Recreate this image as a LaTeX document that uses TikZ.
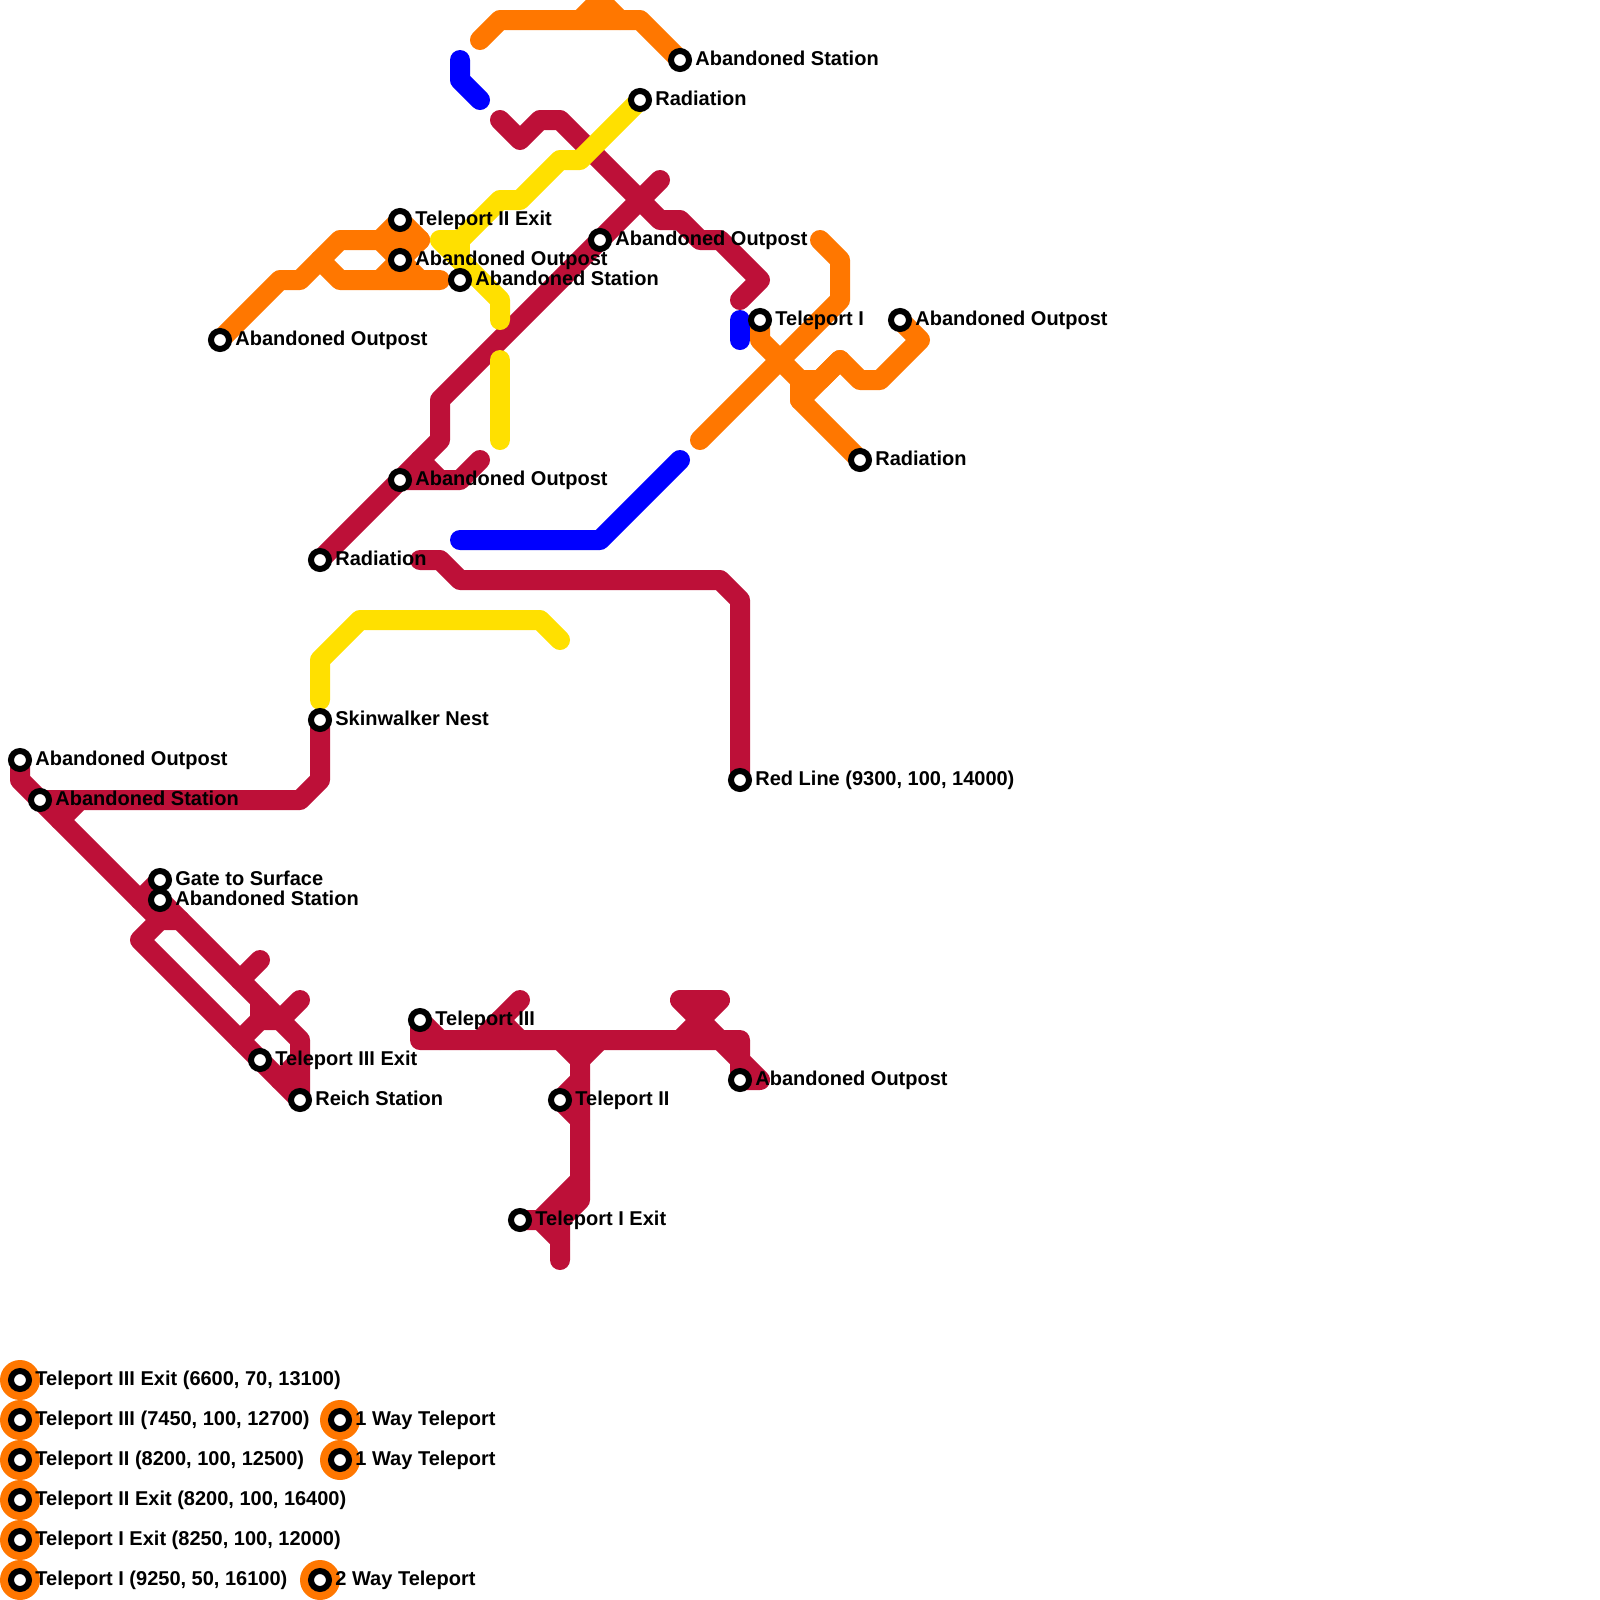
\documentclass[tikz,border=0pt]{standalone}
\usepackage{fontspec}
\setmainfont{Liberation Sans}
\definecolor{mred}{HTML}{BD1038}
\definecolor{morange}{HTML}{FF7700}
\definecolor{myellow}{HTML}{FFE000}
\definecolor{mblue}{HTML}{0000FF}
\tikzset{
  metro/.style={line width=15pt,line cap=round,line join=round},
  rline/.style={metro,draw=mred},
  oline/.style={metro,draw=morange},
  yline/.style={metro,draw=myellow},
  bline/.style={metro,draw=mblue},
  stationdot/.style={circle,draw=black,fill=white,line width=4.5pt,minimum size=13.5pt,inner sep=0pt,outer sep=0pt},
  halo/.style={circle,fill=morange,minimum size=30pt,inner sep=0pt,outer sep=0pt},
  stationlabel/.style={anchor=base west,inner sep=0pt,outer sep=0pt,font=\fontsize{15}{18}\selectfont\bfseries}
}
\newcommand{\stn}[2]{%
  \node[stationdot] (#1-dot) at (#1) {};
  \node[stationlabel] (#1-lab) at ([xshift=11.55pt,yshift=-3.75pt]#1) {#2};
}
\begin{document}
\begin{tikzpicture}[x=0.75pt,y=-0.75pt]
\useasboundingbox (0,0) rectangle (1600,1600);
\clip (0,0) rectangle (1600,1600);
% station positions
\coordinate (asA) at (680,60);
\coordinate (radA) at (640,100);
\coordinate (t2x) at (400,220);
\coordinate (aoA) at (400,260);
\coordinate (asB) at (460,280);
\coordinate (aoB) at (600,240);
\coordinate (aoC) at (220,340);
\coordinate (t1) at (760,320);
\coordinate (aoD) at (900,320);
\coordinate (radB) at (860,460);
\coordinate (aoE) at (400,480);
\coordinate (radC) at (320,560);
\coordinate (skin) at (320,720);
\coordinate (redl) at (740,780);
\coordinate (aoF) at (20,760);
\coordinate (asC) at (40,800);
\coordinate (gate) at (160,880);
\coordinate (asD) at (160,900);
\coordinate (t3x) at (260,1060);
\coordinate (reich) at (300,1100);
\coordinate (t3) at (420,1020);
\coordinate (aoG) at (740,1080);
\coordinate (t2) at (560,1100);
\coordinate (t1x) at (520,1220);
% red lines
\draw[rline] (500,120) -- (520,140) -- (540,120) -- (560,120) -- (660,220) -- (680,220) -- (700,240) -- (720,240) -- (760,280) -- (740,300);
\draw[rline] (660,180) -- (aoB) -- (440,400) -- (440,440) -- (radC);
\draw[rline] (aoE) -- (460,480) -- (480,460);
\draw[rline] (420,460) -- (440,480);
\draw[rline] (420,560) -- (440,560) -- (460,580) -- (720,580) -- (740,600) -- (redl);
\draw[rline] (aoF) -- (20,780) -- (asC) -- (160,920) -- (180,920);
\draw[rline] (160,920) -- (140,940) -- (t3x) -- (reich);
\draw[rline] (gate) -- (140,900);
\draw[rline] (asD) -- (300,1040) -- (reich);
\draw[rline] (60,820) -- (80,800) -- (300,800) -- (320,780) -- (skin);
\draw[rline] (asC) -- (80,800);
\draw[rline] (240,980) -- (260,960);
\draw[rline] (260,1000) -- (260,1020) -- (280,1020) -- (300,1000);
\draw[rline] (260,1020) -- (240,1040);
\draw[rline] (300,1060) -- (280,1080);
\draw[rline] (t3) -- (420,1040) -- (740,1040) -- (740,1060) -- (760,1080) -- (aoG);
\draw[rline] (t3) -- (440,1040);
\draw[rline] (480,1040) -- (500,1020) -- (520,1040);
\draw[rline] (500,1020) -- (520,1000);
\draw[rline] (560,1040) -- (580,1060) -- (580,1200) -- (560,1220) -- (560,1260);
\draw[rline] (600,1040) -- (580,1060);
\draw[rline] (580,1080) -- (t2) -- (580,1120);
\draw[rline] (580,1180) -- (540,1220);
\draw[rline] (t1x) -- (540,1220) -- (560,1240);
\draw[rline] (680,1040) -- (720,1000) -- (680,1000) -- (720,1040) -- (740,1060) -- (aoG);
% orange lines
\draw[oline] (480,40) -- (500,20) -- (640,20) -- (asA);
\draw[oline] (580,20) -- (600,0) -- (620,20);
\draw[oline] (aoC) -- (280,280) -- (300,280) -- (340,240) -- (420,240) -- (aoA) -- (420,280);
\draw[oline] (380,240) -- (t2x) -- (420,240);
\draw[oline] (380,240) -- (aoA) -- (380,280);
\draw[oline] (320,260) -- (340,280) -- (440,280);
\draw[oline] (700,440) -- (840,300) -- (840,260) -- (820,240);
\draw[oline] (t1) -- (760,340) -- (800,380) -- (800,400) -- (radB);
\draw[oline] (800,380) -- (820,380) -- (840,360) -- (860,380) -- (880,380) -- (920,340) -- (aoD);
\draw[oline] (800,400) -- (840,360);
% yellow lines
\draw[yline] (radA) -- (580,160) -- (560,160) -- (520,200) -- (500,200) -- (460,240) -- (440,240) -- (460,260) -- (500,300) -- (500,320);
\draw[yline] (460,240) -- (460,260);
\draw[yline] (500,360) -- (500,440);
\draw[yline] (320,700) -- (320,660) -- (360,620) -- (540,620) -- (560,640);
% blue lines
\draw[bline] (460,60) -- (460,80) -- (480,100);
\draw[bline] (740,320) -- (740,340);
\draw[bline] (460,540) -- (600,540) -- (680,460);
% stations
\stn{asA}{Abandoned Station}
\stn{radA}{Radiation}
\stn{t2x}{Teleport II Exit}
\stn{aoA}{Abandoned Outpost}
\stn{asB}{Abandoned Station}
\stn{aoB}{Abandoned Outpost}
\stn{aoC}{Abandoned Outpost}
\stn{t1}{Teleport I}
\stn{aoD}{Abandoned Outpost}
\stn{radB}{Radiation}
\stn{aoE}{Abandoned Outpost}
\stn{radC}{Radiation}
\stn{skin}{Skinwalker Nest}
\stn{redl}{Red Line (9300, 100, 14000)}
\stn{aoF}{Abandoned Outpost}
\stn{asC}{Abandoned Station}
\stn{gate}{Gate to Surface}
\stn{asD}{Abandoned Station}
\stn{t3x}{Teleport III Exit}
\stn{reich}{Reich Station}
\stn{t3}{Teleport III}
\stn{aoG}{Abandoned Outpost}
\stn{t2}{Teleport II}
\stn{t1x}{Teleport I Exit}
% legend
\foreach \nm/\px/\py in {lgA/20/1380,lgB/20/1420,lgC/20/1460,lgD/20/1500,lgE/20/1540,lgF/20/1580,lgG/340/1420,lgH/340/1460,lgI/320/1580}{
  \coordinate (\nm) at (\px,\py);
  \node[halo] (\nm-halo) at (\px,\py) {};
}
\stn{lgA}{Teleport III Exit (6600, 70, 13100)}
\stn{lgB}{Teleport III (7450, 100, 12700)}
\stn{lgC}{Teleport II (8200, 100, 12500)}
\stn{lgD}{Teleport II Exit (8200, 100, 16400)}
\stn{lgE}{Teleport I Exit (8250, 100, 12000)}
\stn{lgF}{Teleport I (9250, 50, 16100)}
\stn{lgG}{1 Way Teleport}
\stn{lgH}{1 Way Teleport}
\stn{lgI}{2 Way Teleport}
\end{tikzpicture}
\end{document}
